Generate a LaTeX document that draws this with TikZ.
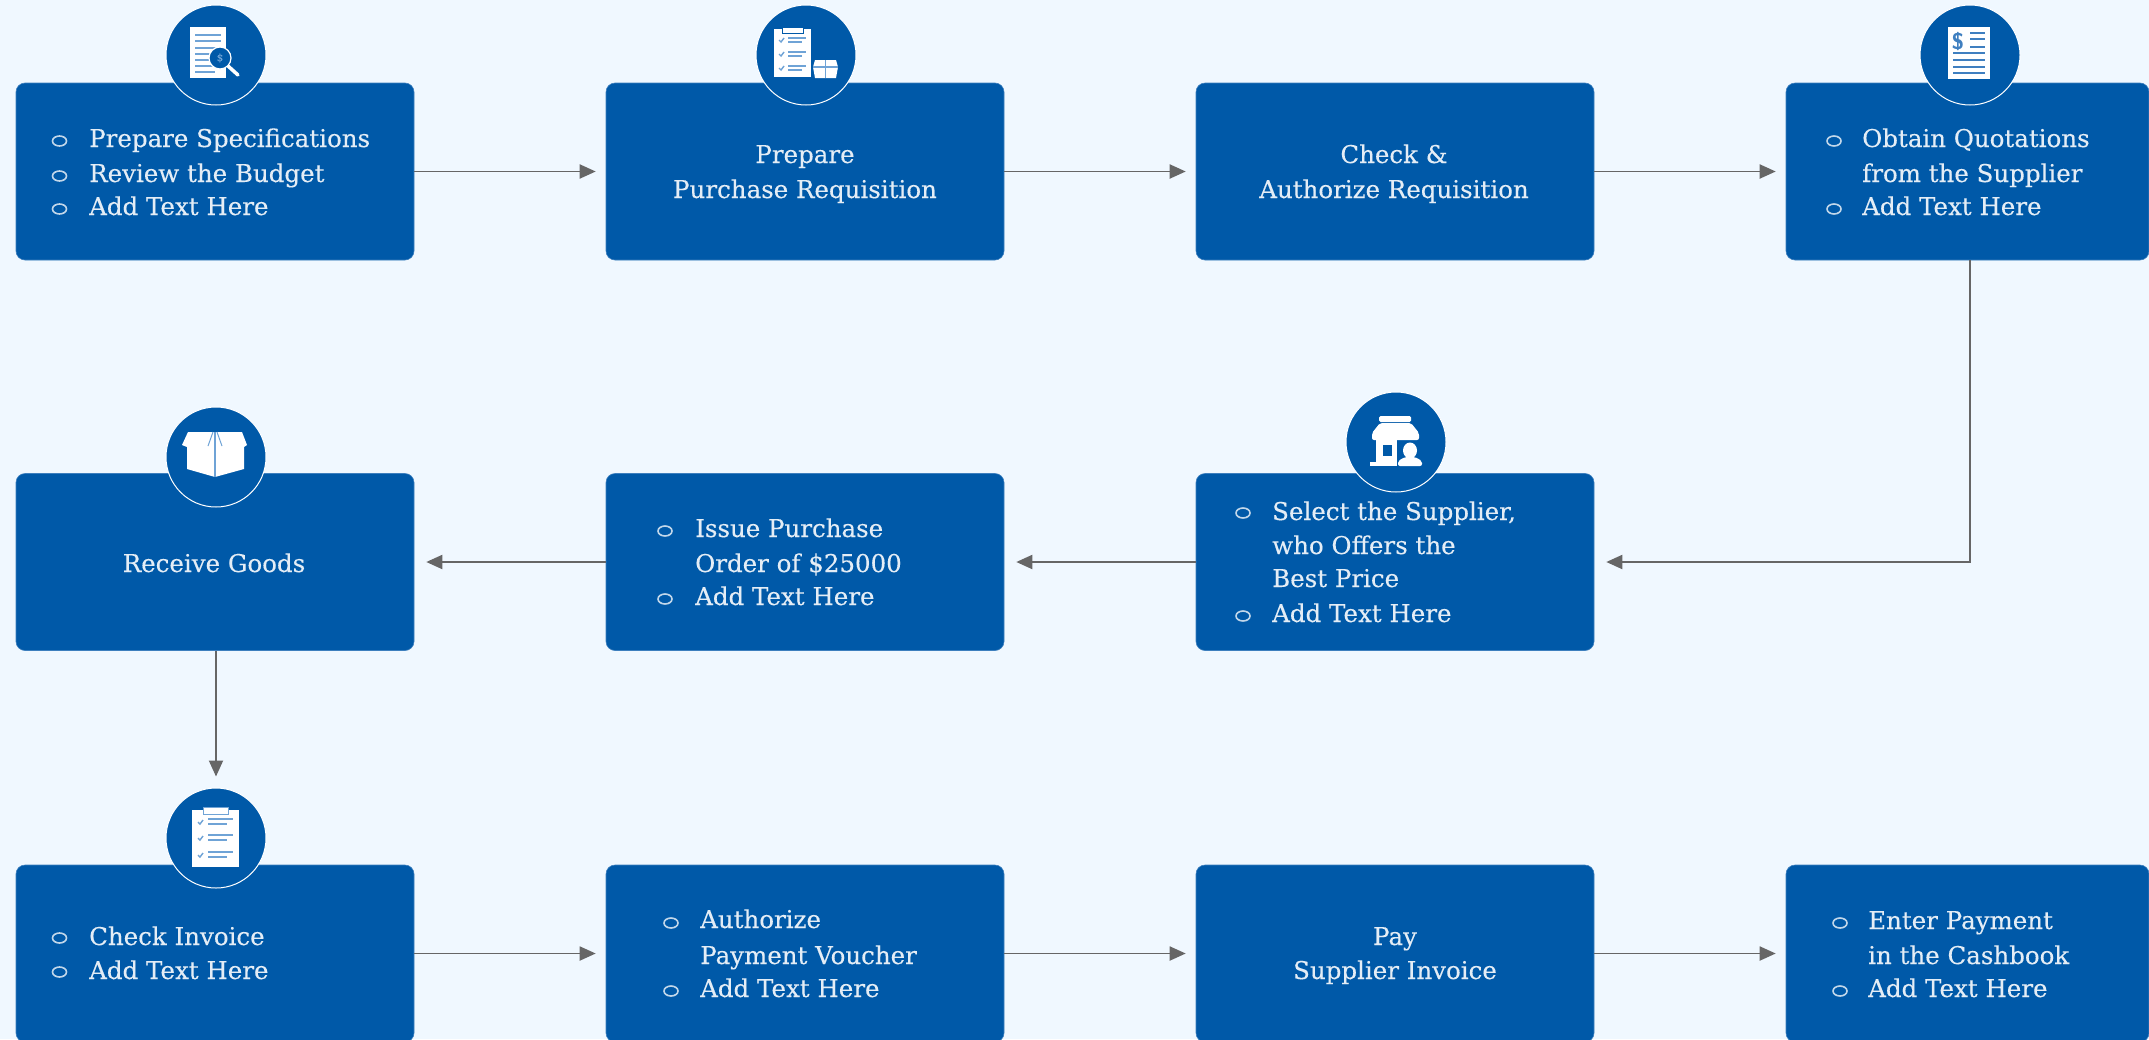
\documentclass[tikz,border=0pt]{standalone}
\usepackage{fontspec}
\setmainfont{DejaVu Serif}[FakeBold=0.25]
\usetikzlibrary{arrows.meta,calc}
\definecolor{pagebg}{HTML}{F0F8FF}
\definecolor{boxblue}{HTML}{0059A8}
\definecolor{boxedge}{HTML}{3D7FBE}
\definecolor{txtc}{HTML}{E4EDF6}
\definecolor{linkc}{HTML}{666666}
\definecolor{iconln}{HTML}{6FA3D6}
\definecolor{iconmid}{HTML}{3F7FC0}
\tikzset{
  box/.style={draw=boxedge,line width=0.6pt,fill=boxblue,rounded corners=9pt,minimum width=398pt,minimum height=177pt,inner sep=0pt},
  circ/.style={circle,draw=white,line width=1pt,fill=boxblue,minimum size=100pt,inner sep=0pt},
  link/.style={draw=linkc,line width=1.9pt,-{Triangle[length=16pt,width=14pt]}},
  txt/.style={text=txtc,font=\fontsize{24.5}{28}\selectfont,inner sep=0pt,anchor=base west},
  ctxt/.style={txt,anchor=base},
  bul/.style={draw=txtc!85!boxblue,line width=1.6pt},
  ico/.style={fill=white,draw=none},
  icl/.style={draw=iconln,line width=1.7pt},
  icm/.style={draw=iconmid,line width=2.4pt}
}
\begin{document}
\begin{tikzpicture}[x=1pt,y=-1pt]
\useasboundingbox (0,0) rectangle (2149,1039);
\fill[pagebg] (0,0) rectangle (2149,1039);
% boxes
\node[box] (b1) at (215,171.5) {};
\node[box] (b2) at (805,171.5) {};
\node[box] (b3) at (1395,171.5) {};
\node[box,minimum width=363pt] (b4) at (1967.5,171.5) {};
\node[box] (b5) at (1395,562) {};
\node[box] (b6) at (805,562) {};
\node[box] (b7) at (215,562) {};
\node[box] (b8) at (215,953.5) {};
\node[box] (b9) at (805,953.5) {};
\node[box] (b10) at (1395,953.5) {};
\node[box,minimum width=363pt] (b11) at (1967.5,953.5) {};
% circles
\node[circ] (c1) at (216,55) {};
\node[circ] (c2) at (806,55) {};
\node[circ] (c4) at (1970,55) {};
\node[circ] (c5) at (1396,442) {};
\node[circ] (c7) at (216,457) {};
\node[circ] (c8) at (216,838) {};
% connectors
\draw[link,shorten >=10pt] (b1.east) -- (b2.west);
\draw[link,shorten >=10pt] (b2.east) -- (b3.west);
\draw[link,shorten >=10pt] (b3.east) -- (b4.west);
\draw[link,shorten >=12pt] (c4 |- b4.south) |- (b5.east);
\draw[link,shorten >=12pt] (b5.west) -- (b6.east);
\draw[link,shorten >=12pt] (b6.west) -- (b7.east);
\draw[link,shorten >=11pt] (c8 |- b7.south) -- (c8.north);
\draw[link,shorten >=10pt] (b8.east) -- (b9.west);
\draw[link,shorten >=10pt] (b9.east) -- (b10.west);
\draw[link,shorten >=10pt] (b10.east) -- (b11.west);
% texts
\node[txt] (t1a) at (89,147) {Prepare Specifications};
\node[txt] (t1b) at (89,182) {Review the Budget};
\node[txt] (t1c) at (89,215) {Add Text Here};
\node[ctxt] (t2a) at (805,163) {Prepare};
\node[ctxt] (t2b) at (805,198) {Purchase Requisition};
\node[ctxt] (t3a) at (1394,163) {Check \&};
\node[ctxt] (t3b) at (1394,198) {Authorize Requisition};
\node[txt] (t4a) at (1862,147) {Obtain Quotations};
\node[txt] (t4b) at (1862,182) {from the Supplier};
\node[txt] (t4c) at (1862,215) {Add Text Here};
\node[txt] (t5a) at (1272,520) {Select the Supplier,};
\node[txt] (t5b) at (1272,554) {who Offers the};
\node[txt] (t5c) at (1272,587) {Best Price};
\node[txt] (t5d) at (1272,622) {Add Text Here};
\node[txt] (t6a) at (695,537) {Issue Purchase};
\node[txt] (t6b) at (695,572) {Order of \$25000};
\node[txt] (t6c) at (695,605) {Add Text Here};
\node[ctxt] (t7a) at (214,572) {Receive Goods};
\node[txt] (t8a) at (89,945) {Check Invoice};
\node[txt] (t8b) at (89,979) {Add Text Here};
\node[txt] (t9a) at (700,928) {Authorize};
\node[txt] (t9b) at (700,964) {Payment Voucher};
\node[txt] (t9c) at (700,997) {Add Text Here};
\node[ctxt] (t10a) at (1395,945) {Pay};
\node[ctxt] (t10b) at (1395,979) {Supplier Invoice};
\node[txt] (t11a) at (1868,929) {Enter Payment};
\node[txt] (t11b) at (1868,964) {in the Cashbook};
\node[txt] (t11c) at (1868,997) {Add Text Here};
% bullets
\foreach \px/\py in {59.5/141,59.5/176,59.5/209,
  1834/141,1834/209,
  1243/513,1243/616,
  665/531,665/599,
  59.5/938,59.5/972,
  671/923,671/991,
  1840/923,1840/991}
  \draw[bul] (\px,\py) ellipse [x radius=7pt,y radius=5pt];
% icon 1: document with magnifier
\fill[ico] (190,27) rectangle (226,78);
\foreach \ly in {35,41,48} \draw[icl] (195,\ly) -- (221,\ly);
\foreach \ly in {54,60,66,72} \draw[icl] (195,\ly) -- (215,\ly);
\draw[white,line width=3.5pt,line cap=round] (228,66) -- (238,75);
\draw[fill=boxblue,draw=white,line width=1.2pt] (220,58) circle [radius=11pt];
\node[text=iconln,font=\fontsize{10}{10}\selectfont,inner sep=0pt] (d1) at (220,58) {\$};
% icon 2: clipboard and parcel
\fill[ico] (774,29) rectangle (811,77);
\fill[ico,draw=boxblue,line width=0.8pt] (782,27) rectangle (803,33);
\foreach \ly in {40,54,68} {
  \draw[icl,line width=1.4pt] (779,\ly) -- (781,\ly+2) -- (784,\ly-2);
  \draw[icl,line width=1.4pt] (788,\ly-2) -- (806,\ly-2);
  \draw[icl,line width=1.4pt] (788,\ly+2) -- (802,\ly+2);
}
\fill[ico] (815,60) -- (836,60) -- (838,67) -- (836,78) -- (815,78) -- (813,67) -- cycle;
\draw[icl,line width=1.2pt] (825.5,60) -- (825.5,78);
\draw[icl,line width=1.2pt] (813,67) -- (838,67);
% icon 4: quotation
\fill[ico] (1948,27) rectangle (1990,79);
\node[text=iconmid,font=\fontsize{23}{23}\selectfont\sffamily\bfseries,inner sep=0pt] (d4) at (1958,42) {\$};
\foreach \ly in {33,39,47} \draw[icm] (1970,\ly) -- (1985,\ly);
\foreach \ly in {53,60,67,73} \draw[icm] (1953,\ly) -- (1985,\ly);
% icon 5: shop and person
\fill[ico,rounded corners=1.5pt] (1379,416) rectangle (1411,422);
\fill[ico,rounded corners=2pt] (1380,423) -- (1411,423) -- (1419,433) -- (1419,440) -- (1372,440) -- (1372,433) -- cycle;
\fill[ico] (1376,440) rectangle (1397,462);
\fill[boxblue] (1383,445) rectangle (1392,456);
\fill[ico] (1370,462) rectangle (1397,466);
\fill[ico] (1410,450.5) ellipse [x radius=7pt,y radius=8pt];
\fill[ico,rounded corners=2pt] (1398,466) -- (1398,461) -- (1405,457) -- (1415,457) -- (1422,461) -- (1422,466) -- cycle;
% icon 7: open box
\fill[ico] (188,432) -- (242,432) -- (247,445) -- (244,447) -- (244,469) -- (215,477) -- (187,469) -- (187,447) -- (182,445) -- cycle;
\draw[icl,line width=2pt] (215,432) -- (215,477);
\draw[icl,line width=1pt] (213,432) -- (208,446);
\draw[icl,line width=1pt] (217,432) -- (222,446);
% icon 8: clipboard
\fill[ico] (192,810) rectangle (239,867);
\fill[ico,draw=iconln,line width=0.8pt] (203,807) rectangle (228,814);
\foreach \ly in {822,838,855} {
  \draw[icl,line width=1.4pt] (198,\ly) -- (200,\ly+2) -- (203,\ly-2);
  \draw[icl,line width=1.4pt] (208,\ly-3) -- (233,\ly-3);
  \draw[icl,line width=1.4pt] (208,\ly+2) -- (227,\ly+2);
}
\end{tikzpicture}
\end{document}
